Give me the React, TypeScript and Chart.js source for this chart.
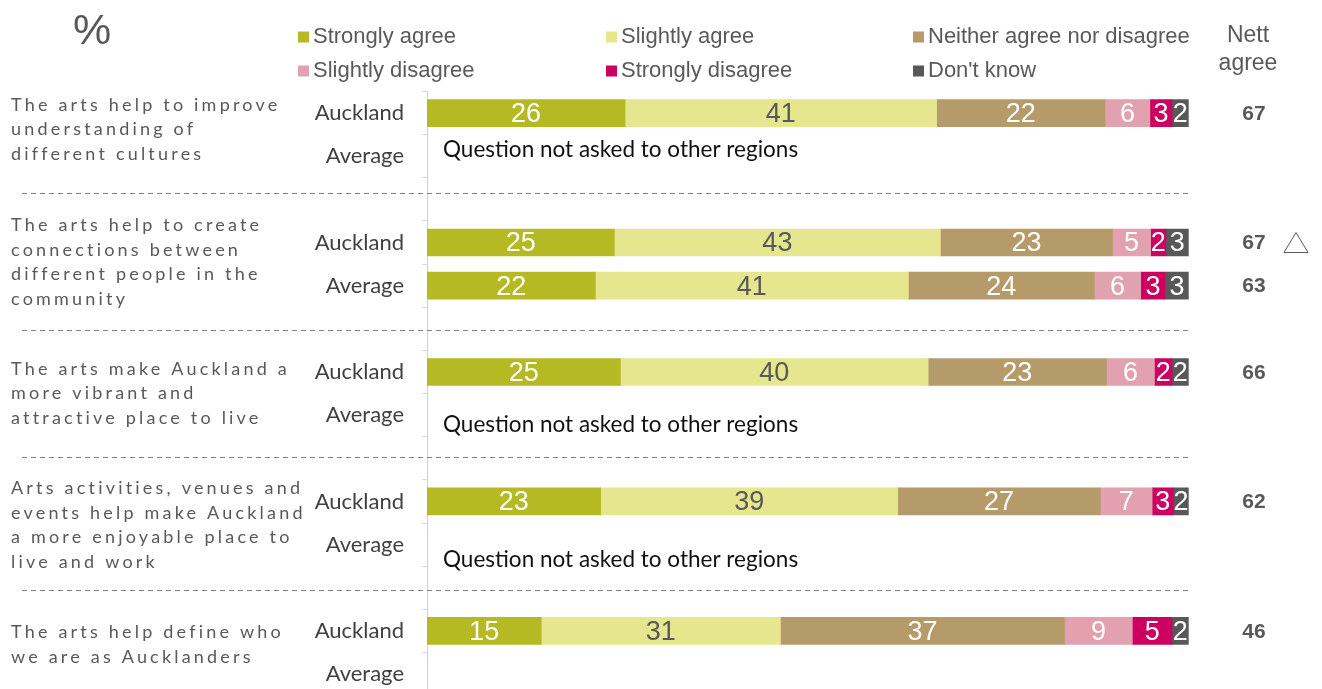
import React, { useEffect, useRef } from 'react';
import { Chart, registerables } from 'chart.js';

Chart.register(...registerables);

// ---------- DATA ----------
const questions: string[][] = [
  ['The arts help to improve', 'understanding of', 'different cultures'],
  ['The arts help to create', 'connections between', 'different people in the', 'community'],
  ['The arts make Auckland a', 'more vibrant and', 'attractive place to live'],
  ['Arts activities, venues and', 'events help make Auckland', 'a more enjoyable place to', 'live and work'],
  ['The arts help define who', 'we are as Aucklanders'],
];
const regions = ['Auckland', 'Average'];
const seriesNames = [
  'Strongly agree',
  'Slightly agree',
  'Neither agree nor disagree',
  'Slightly disagree',
  'Strongly disagree',
  "Don't know",
];
// rows: Q1 Auckland, Q1 Average, Q2 Auckland, Q2 Average, ... (null = not asked)
const stronglyAgree = [26.0, null, 24.6, 22.1, 25.4, null, 22.8, null, 15.0, null];
const slightlyAgree = [40.9, null, 42.8, 41.1, 40.4, null, 39.0, null, 31.4, null];
const neitherAgree = [22.1, null, 22.6, 24.4, 23.4, null, 26.6, null, 37.3, null];
const slightlyDisagree = [5.9, null, 5.0, 6.1, 6.3, null, 6.8, null, 8.9, null];
const stronglyDisagree = [2.9, null, 2.0, 3.2, 2.3, null, 2.8, null, 5.2, null];
const dontKnow = [2.2, null, 3.0, 3.1, 2.2, null, 2.0, null, 2.2, null];
const nettAgree = [67, null, 67, 63, 66, null, 62, null, 46, null];
const significantlyHigher = [false, false, true, false, false, false, false, false, false, false];
const notAskedRows = [1, 5, 7];
const notAskedText = 'Question not asked to other regions';

// ---------- STYLE ----------
const seriesColors = ['#B5BA24', '#E6E68E', '#B59A6A', '#E1A1AE', '#CD0062', '#585858'];
const labelColors = ['#FFFFFF', '#595959', '#FFFFFF', '#FFFFFF', '#FFFFFF', '#FFFFFF'];
const ARIAL = '"Liberation Sans", Arial, sans-serif';
const CALIBRI = 'Lato, "Open Sans", sans-serif';
const GREY = '#595959';
const questionYOffset = [-5, -2, 0, 2, -8];
const noteYOffset: Record<number, number> = { 1: -6, 5: 10, 7: 15 };
const separatorYOffset = [-6, 1, -1, 2];

const rowPos = (r: number) => Math.floor(r / 2) * 3 + (r % 2);

export default function App() {
  const ref = useRef<HTMLCanvasElement>(null);

  useEffect(() => {
    document.body.style.margin = '0';
    const canvas = ref.current!;
    const seriesValues = [stronglyAgree, slightlyAgree, neitherAgree, slightlyDisagree, stronglyDisagree, dontKnow];
    const datasets = seriesNames.map((name, i) => ({
      label: name,
      data: seriesValues[i]
        .map((v, r) => (v == null ? null : { x: v, y: rowPos(r) }))
        .filter((d) => d != null) as { x: number; y: number }[],
      backgroundColor: seriesColors[i],
      borderWidth: 0,
      barThickness: 27,
    }));

    const overlay = {
      id: 'overlay',
      afterDraw(chart: any) {
        const ctx: CanvasRenderingContext2D = chart.ctx;
        const ys = chart.scales.y;
        const area = chart.chartArea;
        const rowY = (r: number) => ys.getPixelForValue(rowPos(r));
        ctx.save();

        // bar value labels
        ctx.textAlign = 'center';
        ctx.textBaseline = 'middle';
        ctx.font = `27px ${ARIAL}`;
        chart.data.datasets.forEach((ds: any, di: number) => {
          const meta = chart.getDatasetMeta(di);
          meta.data.forEach((el: any, i: number) => {
            const v = ds.data[i].x;
            ctx.fillStyle = labelColors[di];
            ctx.fillText(String(Math.round(v)), (el.x + el.base) / 2, el.y + 1.5);
          });
        });

        // region labels
        ctx.textAlign = 'right';
        ctx.fillStyle = '#404040';
        ctx.font = `22px ${CALIBRI}`;
        for (let r = 0; r < questions.length * 2; r++) {
          ctx.fillText(regions[r % 2], 404, rowY(r));
        }

        // question texts
        ctx.textAlign = 'left';
        ctx.fillStyle = GREY;
        ctx.font = `18px ${CALIBRI}`;
        (ctx as any).letterSpacing = '3.2px';
        questions.forEach((lines, g) => {
          const c = (rowY(2 * g) + rowY(2 * g + 1)) / 2 + questionYOffset[g];
          const lh = 24.5;
          lines.forEach((ln, k) => {
            ctx.fillText(ln, 11, c + (k - (lines.length - 1) / 2) * lh);
          });
        });
        (ctx as any).letterSpacing = '0px';

        // separators
        ctx.strokeStyle = '#7F7F7F';
        ctx.lineWidth = 1;
        ctx.setLineDash([5, 4]);
        for (let g = 0; g < questions.length - 1; g++) {
          const y = Math.round(ys.getPixelForValue(3 * g + 2) + separatorYOffset[g]) + 0.5;
          ctx.beginPath();
          ctx.moveTo(22, y);
          ctx.lineTo(area.right, y);
          ctx.stroke();
        }
        ctx.setLineDash([]);

        // not asked notes
        ctx.fillStyle = '#111111';
        ctx.font = `22.5px ${CALIBRI}`;
        ctx.textAlign = 'left';
        notAskedRows.forEach((r) => {
          ctx.fillText(notAskedText, 443, rowY(r) + (noteYOffset[r] || 0));
        });

        // nett agree values + significance
        ctx.fillStyle = GREY;
        ctx.font = `bold 21px ${ARIAL}`;
        ctx.textAlign = 'center';
        nettAgree.forEach((n, r) => {
          if (n == null) return;
          const y = rowY(r);
          ctx.fillText(String(n), 1254, y + 1);
          if (significantlyHigher[r]) {
            ctx.strokeStyle = GREY;
            ctx.lineWidth = 1;
            ctx.beginPath();
            ctx.moveTo(1296, y - 10);
            ctx.lineTo(1308, y + 10);
            ctx.lineTo(1284, y + 10);
            ctx.closePath();
            ctx.stroke();
          }
        });

        // header texts
        ctx.font = `23px ${ARIAL}`;
        ctx.fillText('Nett', 1248, 36);
        ctx.fillText('agree', 1248, 64);
        ctx.font = `43px ${ARIAL}`;
        ctx.fillText('%', 92, 32);

        // legend
        const cols = [298, 606, 913];
        const rowsY = [37, 71];
        ctx.font = `22px ${ARIAL}`;
        ctx.textAlign = 'left';
        chart.data.datasets.forEach((ds: any, i: number) => {
          const x = cols[i % 3];
          const y = rowsY[Math.floor(i / 3)];
          ctx.fillStyle = ds.backgroundColor;
          ctx.fillRect(x, y - 5.5, 11, 11);
          ctx.fillStyle = GREY;
          ctx.fillText(ds.label, x + 15, y);
        });

        ctx.restore();
      },
    };

    const chart = new Chart(canvas, {
      type: 'bar',
      data: { datasets },
      options: {
        indexAxis: 'y',
        animation: false,
        responsive: false,
        devicePixelRatio: 1,
        events: [],
        layout: { padding: { top: 91.5, right: 133.3, bottom: 0, left: 0 } },
        plugins: { legend: { display: false }, tooltip: { enabled: false } },
        scales: {
          x: { type: 'linear', min: 0, max: 100, stacked: true, display: false },
          y: {
            type: 'linear',
            reverse: true,
            stacked: true,
            offset: false,
            min: -0.5,
            max: 13.347,
            ticks: { display: false },
            grid: { offset: false, drawOnChartArea: false, drawTicks: true, tickLength: 5, color: '#D9D9D9' },
            border: { color: '#D0D0D0', width: 1 },
            afterBuildTicks: (scale: any) => {
              const t = [];
              for (let v = -0.5; v <= 13; v += 1) t.push({ value: v });
              scale.ticks = t;
            },
            afterFit: (scale: any) => {
              scale.width = 427;
            },
          },
        },
      } as any,
      plugins: [overlay],
    });
    return () => chart.destroy();
  }, []);

  return (
    <div style={{ width: 1322, height: 689 }}>
      <canvas ref={ref} width={1322} height={689} style={{ display: 'block' }} />
    </div>
  );
}
